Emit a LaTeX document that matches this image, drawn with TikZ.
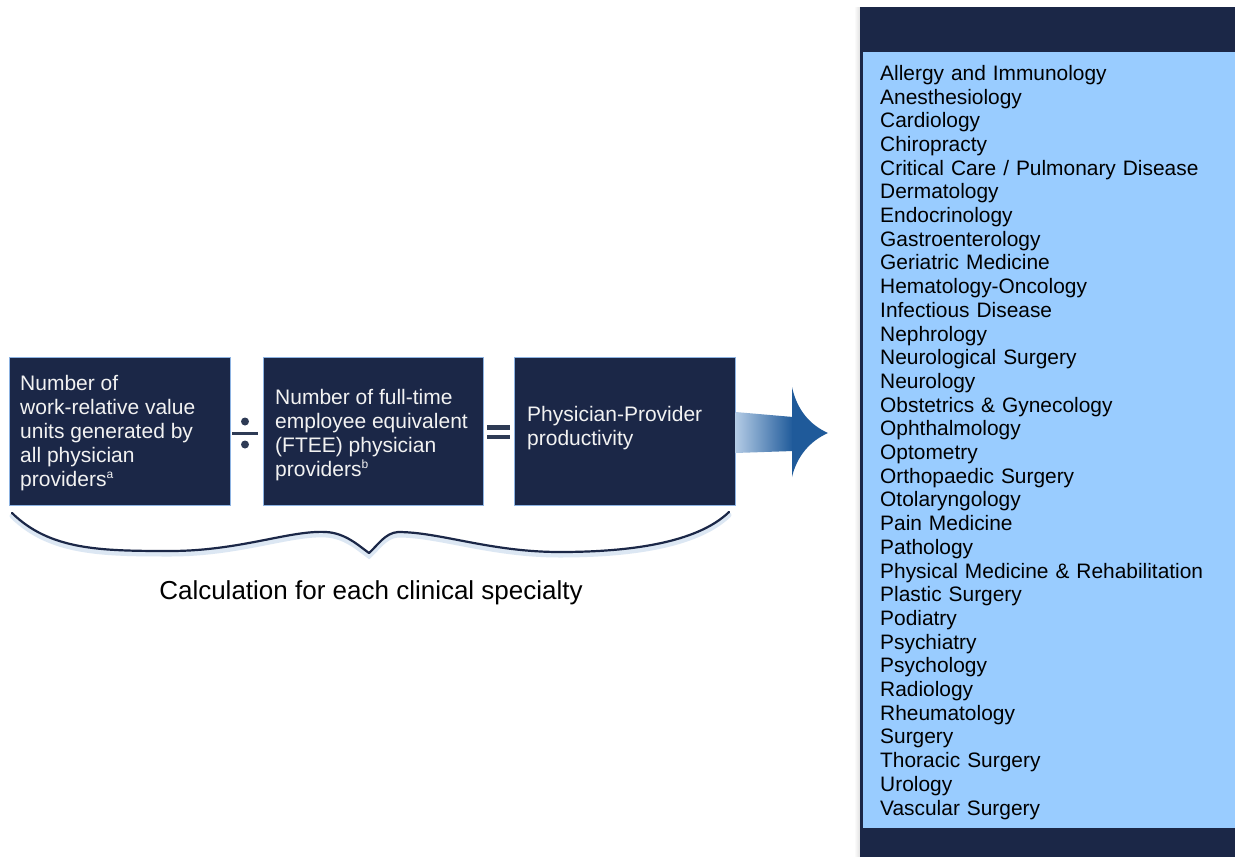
\documentclass[tikz,border=0pt]{standalone}
\usepackage{fontspec}
\setmainfont{Liberation Sans}
\usetikzlibrary{calc}
\definecolor{navy}{HTML}{1B2747}
\definecolor{lightpanel}{HTML}{99CCFF}
\definecolor{boxedge}{HTML}{8DB3E2}
\definecolor{arrowblue}{HTML}{1F5A9A}
\definecolor{arrowlight}{HTML}{B3CBE5}
\definecolor{signgray}{HTML}{2E3B55}
\definecolor{glow}{HTML}{A9C4E3}
\definecolor{boxtext}{HTML}{F2F2F2}
\newcommand{\supmark}[1]{\textsuperscript{\fontsize{12pt}{12pt}\selectfont #1}}
\tikzset{
  calcbox/.style={draw=boxedge, line width=1pt, fill=navy, inner sep=0pt},
  boxlabel/.style={anchor=north west, inner sep=0pt, text=boxtext, align=left,
    font=\fontsize{21pt}{24pt}\selectfont},
  listlabel/.style={anchor=north west, inner sep=0pt, text=black, align=left,
    text width=350pt, font=\fontsize{20.9pt}{23.7pt}\selectfont},
  signpart/.style={fill=signgray, draw=none},
}
\begin{document}
\begin{tikzpicture}[x=1pt,y=-1pt]
\useasboundingbox (0,0) rectangle (1235,857);
\fill[white] (0,0) rectangle (1235,857);

% right panel
\shade[left color=white, right color=black!12] (854,7) rectangle (860,857);
\node[fill=navy, inner sep=0pt, minimum width=380pt, minimum height=850pt, anchor=north west] (panel) at (860,7) {};
\node[fill=lightpanel, inner sep=0pt, minimum width=377pt, minimum height=776pt, anchor=north west] (inner) at (863,52) {};
\node[listlabel] (list) at (880,65) {Allergy and Immunology\\
Anesthesiology\\
Cardiology\\
Chiropracty\\
Critical Care / Pulmonary Disease\\
Dermatology\\
Endocrinology\\
Gastroenterology\\
Geriatric Medicine\\
Hematology-Oncology\\
Infectious Disease\\
Nephrology\\
Neurological Surgery\\
Neurology\\
Obstetrics \& Gynecology\\
Ophthalmology\\
Optometry\\
Orthopaedic Surgery\\
Otolaryngology\\
Pain Medicine\\
Pathology\\
Physical Medicine \& Rehabilitation\\
Plastic Surgery\\
Podiatry\\
Psychiatry\\
Psychology\\
Radiology\\
Rheumatology\\
Surgery\\
Thoracic Surgery\\
Urology\\
Vascular Surgery};

% calculation boxes
\node[calcbox, minimum width=221pt, minimum height=148pt] (b1) at (119.5,431) {};
\node[calcbox, minimum width=220pt, minimum height=148pt] (b2) at (373,431) {};
\node[calcbox, minimum width=221pt, minimum height=148pt] (b3) at (624.5,431) {};

\node[boxlabel] (t1) at (20,375) {Number of\\work-relative value\\units generated by\\all physician\\providers\supmark{a}};
\node[boxlabel] (t2) at (275,389) {Number of full-time\\employee equivalent\\(FTEE) physician\\providers\supmark{b}};
\node[boxlabel] (t3) at (527,406) {Physician-Provider\\productivity};

% divide sign
\fill[signpart] (232,431.5) rectangle (258,434.5);
\fill[signpart] (245,421.5) circle (4);
\fill[signpart] (245,444.5) circle (4);
% equals sign
\fill[signpart] (487,425) rectangle (510,429.5);
\fill[signpart] (487,434.5) rectangle (510,439);

% block arrow
\shade[left color=arrowlight, right color=arrowblue]
  (b3.east |- 0,412) -- (793,417) -- (793,451) -- (b3.east |- 0,453) -- cycle;
\fill[arrowblue] (792,387) .. controls (797,410) and (810,425) .. (828,433)
  .. controls (810,441) and (797,456) .. (792,477) -- cycle;

% brace
\begin{scope}[shift={(0,3)}]
\draw[glow, line width=5pt, opacity=0.4, line cap=round]
  (12,513) .. controls (50,550) and (100,551) .. (170,551)
  .. controls (240,551) and (290,530) .. (326,532)
  .. controls (345,533) and (358,545) .. (369,553)
  .. controls (378,545) and (385,533) .. (398,532)
  .. controls (440,532) and (490,552) .. (560,552)
  .. controls (640,552) and (700,540) .. (729,512);
\end{scope}
\draw[navy, line width=2.2pt, line cap=round, line join=round]
  (12,513) .. controls (50,550) and (100,551) .. (170,551)
  .. controls (240,551) and (290,530) .. (326,532)
  .. controls (345,533) and (358,545) .. (369,553)
  .. controls (378,545) and (385,533) .. (398,532)
  .. controls (440,532) and (490,552) .. (560,552)
  .. controls (640,552) and (700,540) .. (729,512);

\node[font=\fontsize{26pt}{30pt}\selectfont, inner sep=0pt] (caption) at (371,593) {Calculation for each clinical specialty};
\end{tikzpicture}
\end{document}
